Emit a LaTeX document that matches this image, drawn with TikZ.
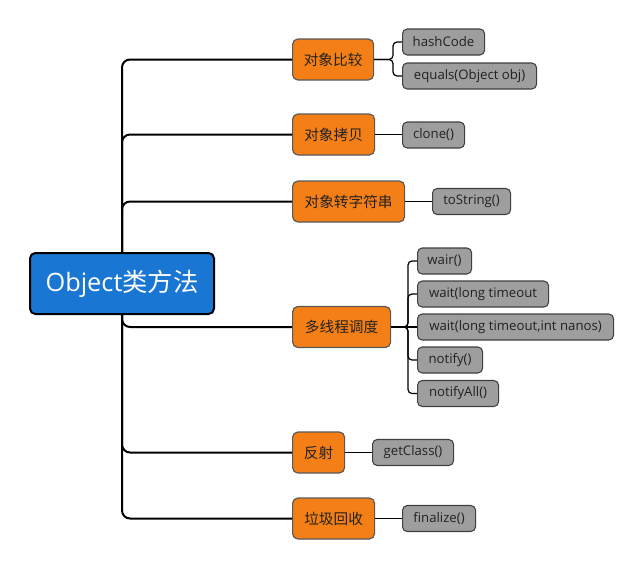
\documentclass[tikz,border=0pt]{standalone}
\usepackage{fontspec}
\setmainfont{Open Sans}
\newfontfamily\cjk{Noto Sans CJK SC}
\definecolor{rootblue}{HTML}{1976D2}
\definecolor{topicorange}{HTML}{F47F16}
\definecolor{leafgray}{HTML}{9E9E9E}
\definecolor{txtdark}{HTML}{222222}
\def\px{0.75pt}
\tikzset{
  rootbox/.style={draw=black, line width=1.5pt, fill=rootblue, rounded corners=4pt,
    text=white, font=\fontsize{19}{21}\selectfont, minimum height=61*\px, anchor=west, inner sep=0pt},
  topicbox/.style={draw=black!65, line width=0.9pt, fill=topicorange, rounded corners=4pt,
    text=txtdark, font=\cjk\fontsize{11}{13}\selectfont, minimum height=41*\px, anchor=west, inner sep=0pt},
  leafbox/.style={draw=black!75, line width=0.8pt, fill=leafgray, rounded corners=3.5pt,
    text=txtdark, font=\fontsize{9.9}{11}\selectfont, minimum height=26*\px, anchor=west, inner sep=0pt},
  trunk/.style={line width=1.5pt, rounded corners=6pt},
  twig/.style={line width=0.9pt, rounded corners=3pt},
}
\begin{document}
\begin{tikzpicture}[x=0.75pt,y=-0.75pt]
\useasboundingbox (0,0) rectangle (643,569);
% root
\node[rootbox, minimum width=184*\px] (root) at (29,283.5) {Object{\cjk 类方法}};
% topics
\node[topicbox, minimum width=81*\px]  (c1) at (292,59.5)  {对象比较};
\node[topicbox, minimum width=82*\px]  (c2) at (292,134.5) {对象拷贝};
\node[topicbox, minimum width=112*\px] (c3) at (292,201.5) {对象转字符串};
\node[topicbox, minimum width=98*\px]  (c4) at (292,327)   {多线程调度};
\node[topicbox, minimum width=52*\px]  (c5) at (292,452.5) {反射};
\node[topicbox, minimum width=82*\px]  (c6) at (292,518.5) {垃圾回收};
% leaves
\node[leafbox, minimum width=82*\px]  (l11) at (402,42)  {hashCode};
\node[leafbox, minimum width=134*\px] (l12) at (402,76)  {equals(Object obj)};
\node[leafbox, minimum width=62*\px]  (l21) at (402,135) {clone()};
\node[leafbox, minimum width=78*\px]  (l31) at (432,201.5) {toString()};
\node[leafbox, minimum width=54*\px]  (l41) at (417,261) {wair()};
\node[leafbox, minimum width=131*\px] (l42) at (417,294) {wait(long timeout};
\node[leafbox, minimum width=196*\px] (l43) at (417,327) {wait(long timeout,int nanos)};
\node[leafbox, minimum width=65*\px]  (l44) at (417,360) {notify()};
\node[leafbox, minimum width=81*\px]  (l45) at (417,393.5) {notifyAll()};
\node[leafbox, minimum width=81*\px]  (l51) at (372,452.5) {getClass()};
\node[leafbox, minimum width=73*\px]  (l61) at (402,518.5) {finalize()};
% trunk connectors
\draw[trunk] (root.north) |- (c1.west);
\draw[trunk] (root.north) |- (c2.west);
\draw[trunk] (root.north) |- (c3.west);
\draw[trunk] (root.south) |- (c4.west);
\draw[trunk] (root.south) |- (c5.west);
\draw[trunk] (root.south) |- (c6.west);
% twigs
\coordinate (j1) at (393,59.5);
\coordinate (j4) at (408,327);
\draw[twig] (c1.east) -- (j1) |- (l11.west);
\draw[twig] (c1.east) -- (j1) |- (l12.west);
\draw[twig] (c2.east) -- (l21.west |- c2.east);
\draw[twig] (c3.east) -- (l31.west |- c3.east);
\draw[twig] (c4.east) -- (j4) |- (l41.west);
\draw[twig] (c4.east) -- (j4) |- (l42.west);
\draw[twig] (c4.east) -- (l43.west);
\draw[twig] (c4.east) -- (j4) |- (l44.west);
\draw[twig] (c4.east) -- (j4) |- (l45.west);
\draw[twig] (c5.east) -- (l51.west |- c5.east);
\draw[twig] (c6.east) -- (l61.west |- c6.east);
\end{tikzpicture}
\end{document}
